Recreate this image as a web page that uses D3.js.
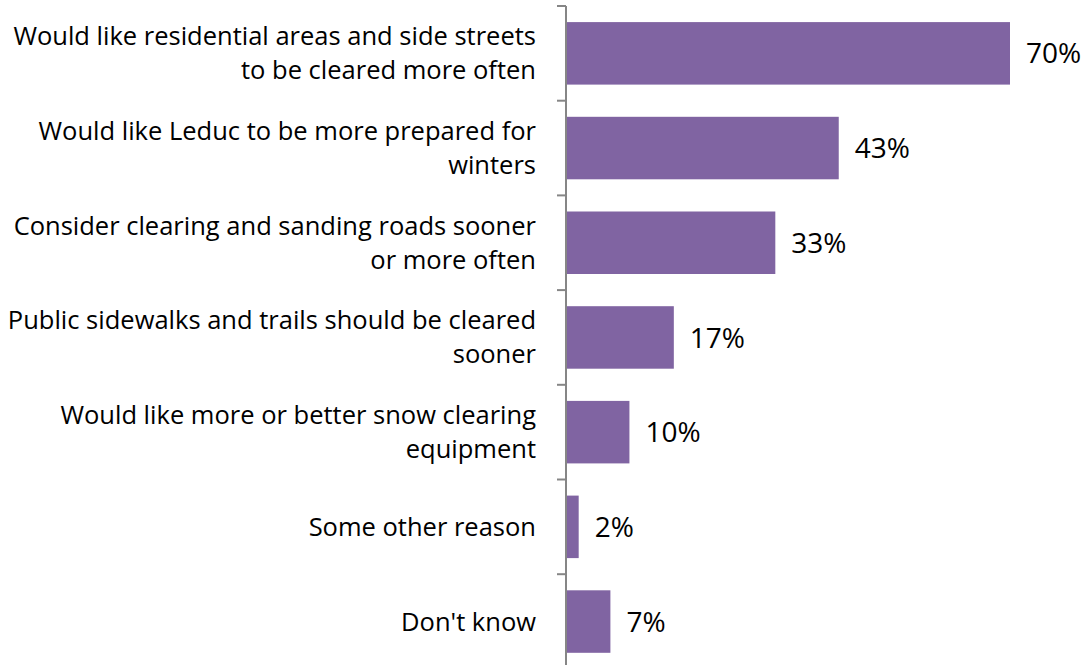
<!DOCTYPE html>
<html>
<head>
<meta charset="utf-8">
<script src="https://cdn.jsdelivr.net/npm/d3@7"></script>
<style>
  body { margin: 0; background: #fff; }
  text { font-family: "Open Sans", sans-serif; fill: #000; }
</style>
</head>
<body>
<div id="chart"></div>
<script>
// categories, one array of lines per label
var categories = [
    ["Would like residential areas and side streets", "to be cleared more often"],
    ["Would like Leduc to be more prepared for", "winters"],
    ["Consider clearing and sanding roads sooner", "or more often"],
    ["Public sidewalks and trails should be cleared", "sooner"],
    ["Would like more or better snow clearing", "equipment"],
    ["Some other reason"],
    ["Don't know"]
];
var values = [70, 43, 33, 17, 10, 2, 7];

var width = 1087, height = 665;
var margin = { top: 6, right: 0, bottom: 0, left: 566 };

var svg = d3.select("#chart").append("svg")
    .attr("width", width)
    .attr("height", height);

var g = svg.append("g")
    .attr("transform", "translate(" + margin.left + "," + margin.top + ")");

var x = d3.scaleLinear()
    .domain([0, 70])
    .range([0, 444]);

var y = d3.scaleBand()
    .domain(d3.range(categories.length))
    .range([0, 94.7 * categories.length])
    .paddingInner(0.34)
    .paddingOuter(0.17);

// bars
g.selectAll("rect.bar")
    .data(values)
    .enter().append("rect")
    .attr("class", "bar")
    .attr("x", 0)
    .attr("y", function(d, i) { return y(i); })
    .attr("width", function(d) { return x(d); })
    .attr("height", y.bandwidth())
    .attr("fill", "#8064a2");

// value labels
g.selectAll("text.val")
    .data(values)
    .enter().append("text")
    .attr("class", "val")
    .attr("x", function(d) { return x(d) + 16; })
    .attr("y", function(d, i) { return y(i) + y.bandwidth() / 2; })
    .attr("dy", "0.36em")
    .style("font-size", "28px")
    .text(function(d) { return d + "%"; });

// axis line + ticks between categories
var step = y.step();
g.append("line")
    .attr("x1", 0).attr("x2", 0)
    .attr("y1", 0).attr("y2", height)
    .attr("stroke", "#868686")
    .attr("stroke-width", 2);

g.selectAll("line.tick")
    .data(d3.range(categories.length + 1))
    .enter().append("line")
    .attr("class", "tick")
    .attr("x1", -9).attr("x2", 0)
    .attr("y1", function(d) { return d * step; })
    .attr("y2", function(d) { return d * step; })
    .attr("stroke", "#868686")
    .attr("stroke-width", 2);

// category labels
var lineH = 34;
var labels = g.selectAll("text.cat")
    .data(categories)
    .enter().append("text")
    .attr("class", "cat")
    .attr("text-anchor", "end")
    .style("font-size", "25.5px")
    .attr("y", function(d, i) { return y(i) + y.bandwidth() / 2; });

labels.selectAll("tspan")
    .data(function(d) { return d.map(function(t, j) { return { t: t, j: j, n: d.length }; }); })
    .enter().append("tspan")
    .attr("x", -30)
    .attr("dy", function(d) {
        if (d.j === 0) return ((-(d.n - 1) / 2) * lineH + 9) + "px";
        return lineH + "px";
    })
    .text(function(d) { return d.t; });
</script>
</body>
</html>
